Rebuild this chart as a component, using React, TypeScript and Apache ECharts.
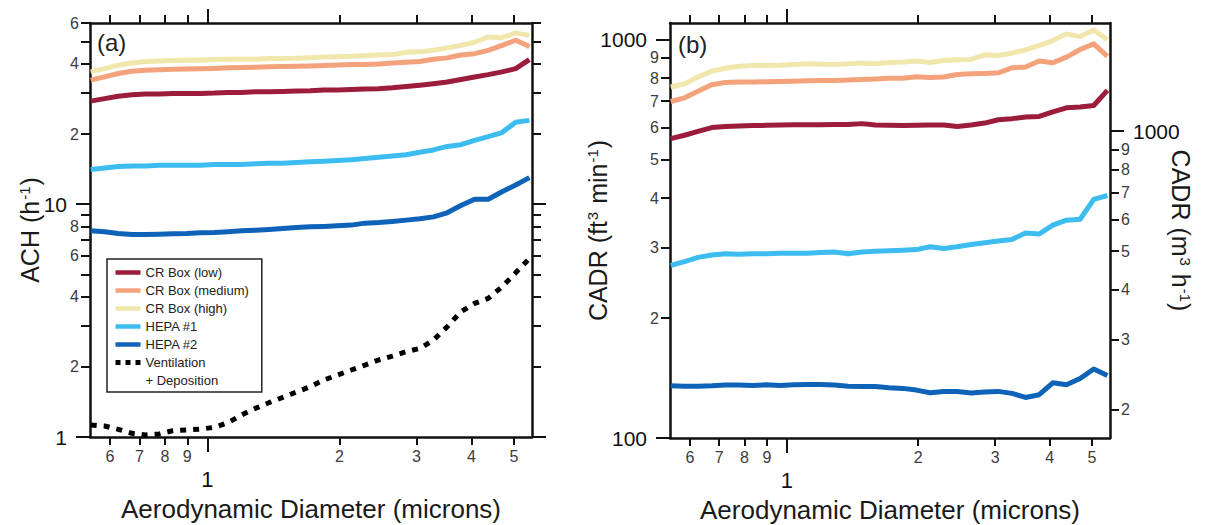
import React, { useEffect, useRef } from "react";
import * as echarts from "echarts";

// ---------------- data ----------------
const diameters = [0.542, 0.583, 0.626, 0.673, 0.723, 0.777, 0.835, 0.898, 0.965, 1.037, 1.114, 1.197, 1.286, 1.382, 1.486, 1.596, 1.715, 1.843, 1.981, 2.129, 2.288, 2.458, 2.642, 2.839, 3.051, 3.278, 3.523, 3.786, 4.068, 4.371, 4.698, 5.048, 5.425];

// panel (a): ACH (h^-1)
const achCrLow = [27.7, 28.4, 29.1, 29.5, 29.7, 29.7, 29.9, 29.9, 29.9, 30.0, 30.2, 30.2, 30.4, 30.4, 30.5, 30.6, 30.7, 30.9, 30.9, 31.1, 31.2, 31.3, 31.6, 32.0, 32.4, 32.9, 33.5, 34.3, 35.2, 36.0, 37.0, 38.2, 41.8];
const achCrMed = [34.1, 35.2, 36.4, 37.2, 37.6, 37.8, 38.0, 38.1, 38.2, 38.3, 38.5, 38.6, 38.7, 38.9, 39.0, 39.1, 39.2, 39.4, 39.6, 39.8, 39.8, 40.0, 40.4, 40.7, 41.0, 41.9, 42.5, 43.7, 44.3, 45.8, 48.1, 50.6, 47.6];
const achCrHigh = [37.0, 38.2, 39.5, 40.4, 41.0, 41.2, 41.4, 41.5, 41.5, 41.8, 41.9, 41.9, 41.9, 42.2, 42.2, 42.3, 42.6, 42.9, 43.0, 43.2, 43.5, 43.7, 43.9, 44.9, 45.1, 45.8, 46.9, 48.1, 49.6, 52.3, 51.9, 54.4, 53.1];
const achHepa1 = [14.1, 14.3, 14.5, 14.6, 14.6, 14.7, 14.7, 14.7, 14.7, 14.8, 14.8, 14.8, 14.9, 15.0, 15.0, 15.1, 15.2, 15.3, 15.4, 15.5, 15.7, 15.9, 16.1, 16.3, 16.7, 17.1, 17.7, 18.0, 18.8, 19.5, 20.3, 22.5, 22.9];
const achHepa2 = [7.68, 7.61, 7.48, 7.41, 7.41, 7.43, 7.46, 7.48, 7.53, 7.55, 7.61, 7.68, 7.73, 7.79, 7.86, 7.94, 7.99, 8.02, 8.07, 8.13, 8.29, 8.34, 8.43, 8.54, 8.65, 8.82, 9.18, 9.87, 10.5, 10.5, 11.3, 12.1, 13.0];
const achVentDep = [1.126, 1.115, 1.079, 1.037, 1.02, 1.03, 1.065, 1.072, 1.082, 1.1, 1.152, 1.243, 1.327, 1.404, 1.48, 1.56, 1.644, 1.757, 1.845, 1.94, 2.037, 2.141, 2.227, 2.324, 2.401, 2.608, 2.975, 3.451, 3.747, 3.937, 4.418, 5.074, 5.846];

// panel (b): CADR (ft^3 min^-1)
const cadrCrLow = [564, 575, 588, 601, 605, 607, 608, 609, 610, 611, 611, 611, 612, 612, 615, 610, 609, 608, 609, 610, 610, 605, 610, 617, 629, 633, 639, 641, 658, 674, 677, 683, 745];
const cadrCrMed = [699, 714, 742, 770, 780, 782, 782, 783, 785, 786, 788, 789, 789, 791, 794, 796, 799, 799, 806, 803, 805, 817, 820, 822, 825, 849, 853, 883, 874, 903, 944, 975, 907];
const cadrCrHigh = [760, 774, 805, 833, 847, 857, 861, 861, 862, 866, 869, 867, 866, 869, 873, 869, 876, 878, 883, 876, 886, 889, 891, 915, 912, 924, 942, 966, 994, 1033, 1017, 1057, 998];
const cadrHepa1 = [271, 277, 284, 288, 290, 289, 290, 290, 291, 291, 291, 292, 293, 290, 293, 294, 295, 296, 297, 302, 299, 302, 306, 309, 312, 315, 327, 325, 342, 352, 354, 397, 406];
const cadrHepa2 = [135.2, 134.9, 134.9, 135.2, 135.8, 135.8, 135.5, 136.0, 135.5, 136.0, 136.3, 136.3, 135.8, 134.9, 134.7, 134.7, 133.7, 133.2, 131.9, 129.9, 130.9, 130.9, 129.7, 130.4, 130.9, 129.4, 126.4, 128.4, 137.6, 136.0, 141.0, 149.0, 143.5];

const seriesNames = ["CR Box (low)", "CR Box (medium)", "CR Box (high)", "HEPA #1", "HEPA #2"];
const seriesColors = ["#9c1c3b", "#f4a27c", "#f1e7ad", "#3dbcf0", "#0e63b8"];
const ventName = "Ventilation";
const ventName2 = "+ Deposition";

// ticks & labels
const xMin = 0.54;
const xMax = 5.5;
const xTickValues = [0.6, 0.7, 0.8, 0.9, 1, 2, 3, 4, 5];
const xTickLabels = ["6", "7", "8", "9", "1", "2", "3", "4", "5"];
const xMajorTicks = [1];

const achMin = 1;
const achMax = 60;
const achTickValues = [1, 2, 3, 4, 5, 6, 7, 8, 9, 10, 20, 30, 40, 50, 60];
const achLabelValues = [1, 2, 4, 6, 8, 10, 20, 40, 60];
const achLabelTexts = ["1", "2", "4", "6", "8", "10", "2", "4", "6"];
const achMajorTicks = [1, 10];

const cfmMin = 100;
const cfmMax = 1100;
const cfmTickValues = [100, 200, 300, 400, 500, 600, 700, 800, 900, 1000];
const cfmLabelTexts = ["100", "2", "3", "4", "5", "6", "7", "8", "9", "1000"];
const cfmMajorTicks = [100, 1000];

const CFM_TO_M3H = 1.699;
const m3TickValues = [200, 300, 400, 500, 600, 700, 800, 900, 1000];
const m3LabelTexts = ["2", "3", "4", "5", "6", "7", "8", "9", "1000"];
const m3MajorTicks = [1000];

const bigLabels = ["1", "10", "100", "1000"];

const xTitle = "Aerodynamic Diameter (microns)";
const achTitle = "ACH (h{sup|-1})";
const cfmTitle = "CADR (ft{sup|3} min{sup|-1})";
const m3Title = "CADR (m{sup|3} h{sup|-1})";

// ---------------- styles ----------------
const fontFamily = '"Liberation Sans", Arial, Helvetica, sans-serif';
const axisColor = "#111";
const labelColor = "#3c3c3c";
const lineW = 2.5;
const tickW = 2;

const makeFormatter = (vals: number[], texts: string[]) => (value: number) => {
  const i = vals.findIndex((v) => Math.abs(v - value) <= 1e-6 * v);
  if (i < 0) return "";
  const t = texts[i];
  return bigLabels.includes(t) ? `{big|${t}}` : t;
};

const supRich = {
  sup: { fontSize: 15, fontFamily, color: "#1a1a1a", verticalAlign: "top", padding: [0, 1, 0, 1] },
};

function buildXAxes(grid: number) {
  const base = {
    type: "log",
    gridIndex: grid,
    min: xMin,
    max: xMax,
    splitLine: { show: false },
    minorTick: { show: false },
    axisPointer: { show: false },
  };
  const tickStyle = { color: axisColor, width: tickW };
  return [
    {
      ...base,
      position: "bottom",
      axisLine: { show: true, lineStyle: { color: axisColor, width: lineW } },
      axisTick: { show: true, inside: false, length: 8, customValues: xTickValues, lineStyle: tickStyle },
      axisLabel: {
        show: true,
        customValues: xTickValues,
        margin: 11,
        fontSize: 16,
        color: labelColor,
        fontFamily,
        formatter: makeFormatter(xTickValues, xTickLabels),
        rich: { big: { fontSize: 22, color: "#111", fontFamily, padding: [20, 0, 0, 0] } },
      },
      name: xTitle,
      nameLocation: "middle",
      nameGap: 59,
      nameMoveOverlap: false,
      nameTextStyle: { fontSize: 26, color: "#1a1a1a", fontFamily },
    },
    {
      ...base,
      position: "bottom",
      axisLine: { show: false },
      axisTick: { show: true, inside: false, length: 15, customValues: xMajorTicks, lineStyle: tickStyle },
      axisLabel: { show: false },
    },
    {
      ...base,
      position: "top",
      axisLine: { show: true, lineStyle: { color: axisColor, width: lineW } },
      axisTick: { show: true, inside: false, length: 8, customValues: xTickValues, lineStyle: tickStyle },
      axisLabel: { show: false },
    },
    {
      ...base,
      position: "top",
      axisLine: { show: false },
      axisTick: { show: true, inside: false, length: 14, customValues: xMajorTicks, lineStyle: tickStyle },
      axisLabel: { show: false },
    },
  ];
}

function yPair(
  grid: number,
  position: "left" | "right",
  min: number,
  max: number,
  ticks: number[],
  majors: number[],
  labels: { values: number[]; texts: string[] } | null,
  name: string | null,
  nameGap: number,
  nameRotate: number | undefined
) {
  const base = {
    type: "log",
    gridIndex: grid,
    position,
    min,
    max,
    splitLine: { show: false },
    minorTick: { show: false },
    axisPointer: { show: false },
  };
  const tickStyle = { color: axisColor, width: tickW };
  const bigPad = position === "left" ? [0, 12, 0, 0] : [0, 0, 0, 12];
  const main: any = {
    ...base,
    axisLine: { show: true, lineStyle: { color: axisColor, width: lineW } },
    axisTick: { show: true, inside: false, length: 9, customValues: ticks, lineStyle: tickStyle },
    axisLabel: labels
      ? {
          show: true,
          customValues: labels.values,
          margin: 11,
          fontSize: 16,
          color: labelColor,
          fontFamily,
          formatter: makeFormatter(labels.values, labels.texts),
          rich: { big: { fontSize: 21, color: "#111", fontFamily, padding: bigPad } },
        }
      : { show: false },
  };
  if (name) {
    main.name = name;
    main.nameLocation = "middle";
    main.nameGap = nameGap;
    main.nameMoveOverlap = false;
    if (nameRotate !== undefined) main.nameRotate = nameRotate;
    main.nameTextStyle = { fontSize: 25, color: "#1a1a1a", fontFamily, rich: supRich };
  }
  const major = {
    ...base,
    axisLine: { show: false },
    axisTick: { show: true, inside: false, length: 14, customValues: majors, lineStyle: tickStyle },
    axisLabel: { show: false },
  };
  return [main, major];
}

const pairs = (vals: number[]) => diameters.map((d, i) => [d, vals[i]]);

function lineSeries(name: string, color: string, vals: number[], xIdx: number, yIdx: number, extra: any = {}) {
  return {
    type: "line",
    name,
    xAxisIndex: xIdx,
    yAxisIndex: yIdx,
    data: pairs(vals),
    symbol: "none",
    showSymbol: false,
    smooth: false,
    clip: true,
    silent: true,
    lineStyle: { color, width: 5, cap: "butt", join: "round", ...(extra.lineStyle || {}) },
    itemStyle: { color },
    emphasis: { disabled: true },
  };
}

function buildOption() {
  const xAxis = [...buildXAxes(0), ...buildXAxes(1)];
  const yAxis = [
    ...yPair(0, "left", achMin, achMax, achTickValues, achMajorTicks, { values: achLabelValues, texts: achLabelTexts }, achTitle, 48, undefined),
    ...yPair(0, "right", achMin, achMax, achTickValues, achMajorTicks, null, null, 0, undefined),
    ...yPair(1, "left", cfmMin, cfmMax, cfmTickValues, cfmMajorTicks, { values: cfmTickValues, texts: cfmLabelTexts }, cfmTitle, 60, undefined),
    ...yPair(1, "right", cfmMin * CFM_TO_M3H, cfmMax * CFM_TO_M3H, m3TickValues, m3MajorTicks, { values: m3TickValues, texts: m3LabelTexts }, m3Title, 58, -90),
  ];
  const achSets = [achCrLow, achCrMed, achCrHigh, achHepa1, achHepa2];
  const cadrSets = [cadrCrLow, cadrCrMed, cadrCrHigh, cadrHepa1, cadrHepa2];
  const series: any[] = [];
  seriesNames.forEach((n, i) => series.push(lineSeries(n, seriesColors[i], achSets[i], 0, 0)));
  series.push(lineSeries(ventName, "#000", achVentDep, 0, 0, { lineStyle: { type: [6, 7], width: 5 } }));
  series.push({ type: "line", name: ventName2, xAxisIndex: 0, yAxisIndex: 0, data: [], symbol: "none", lineStyle: { color: "rgba(0,0,0,0)", width: 0 }, itemStyle: { color: "rgba(0,0,0,0)" } });
  seriesNames.forEach((n, i) => series.push(lineSeries(n, seriesColors[i], cadrSets[i], 4, 4)));

  return {
    animation: false,
    backgroundColor: "#fff",
    textStyle: { fontFamily },
    title: [
      { text: "(a)", left: 97, top: 30, padding: 0, textStyle: { fontSize: 24, fontWeight: "normal", color: "#222", fontFamily } },
      { text: "(b)", left: 678, top: 32, padding: 0, textStyle: { fontSize: 24, fontWeight: "normal", color: "#222", fontFamily } },
    ],
    grid: [
      { left: 90, top: 23, width: 442, height: 414, containLabel: false, outerBoundsMode: "none" },
      { left: 670, top: 23, width: 440, height: 415, containLabel: false, outerBoundsMode: "none" },
    ],
    legend: {
      show: true,
      orient: "vertical",
      left: 107,
      top: 259,
      itemWidth: 25,
      itemHeight: 14,
      itemGap: 5,
      padding: [7, 13, 5, 6],
      borderColor: "#222",
      borderWidth: 1.5,
      backgroundColor: "#fff",
      selectedMode: false,
      itemStyle: { opacity: 0, borderWidth: 0 },
      lineStyle: { width: 4.5 },
      textStyle: { fontSize: 13, color: "#222", fontFamily },
      data: [
        ...seriesNames.map((n) => ({ name: n })),
        { name: ventName, lineStyle: { type: [5, 5], width: 5 } },
        { name: ventName2 },
      ],
    },
    xAxis,
    yAxis,
    series,
  };
}

export default function App() {
  const ref = useRef<HTMLDivElement | null>(null);
  useEffect(() => {
    if (!ref.current) return;
    const chart = echarts.init(ref.current, undefined, { renderer: "svg" });
    chart.setOption(buildOption() as any);
    return () => chart.dispose();
  }, []);
  return (
    <div
      ref={ref}
      style={{ position: "fixed", left: 0, top: 0, width: 1205, height: 525, background: "#fff" }}
    />
  );
}
